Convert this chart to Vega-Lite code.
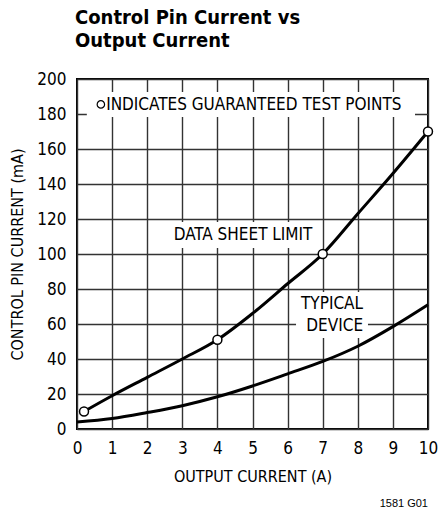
{
  "$schema": "https://vega.github.io/schema/vega-lite/v6.json",
  "autosize": {"type": "none"},
  "padding": {"left": 77, "top": 79, "right": 10, "bottom": 85},
  "width": 351,
  "height": 350,
  "background": "white",
  "config": {
    "view": {"stroke": "black", "strokeWidth": 2},
    "font": "DejaVu Sans Condensed, Liberation Sans Narrow, Roboto, sans-serif"
  },
  "title": {
    "text": ["Control Pin Current vs", "Output Current"],
    "anchor": "start",
    "frame": "group",
    "font": "DejaVu Sans Condensed, Liberation Sans Narrow, Roboto, sans-serif",
    "fontSize": 20,
    "fontWeight": "bold",
    "lineHeight": 23,
    "color": "black",
    "offset": 19,
    "dx": -2
  },
  "datasets": {
    "limit": [
      {"x": 0.2, "y": 10}, {"x": 1, "y": 19}, {"x": 2, "y": 29.5}, {"x": 3, "y": 40},
      {"x": 4, "y": 51}, {"x": 5, "y": 66}, {"x": 6, "y": 83}, {"x": 7, "y": 100},
      {"x": 8, "y": 123}, {"x": 9, "y": 146}, {"x": 10, "y": 170}
    ],
    "typical": [
      {"x": 0, "y": 4}, {"x": 1, "y": 6}, {"x": 2, "y": 9.4}, {"x": 3, "y": 13.3},
      {"x": 4, "y": 18.4}, {"x": 5, "y": 24.6}, {"x": 6, "y": 31.5}, {"x": 7, "y": 38.6},
      {"x": 8, "y": 47.3}, {"x": 9, "y": 58.5}, {"x": 10, "y": 71}
    ],
    "tests": [
      {"x": 0.2, "y": 10}, {"x": 4, "y": 51}, {"x": 7, "y": 100}, {"x": 10, "y": 170}
    ],
    "boxes": [
      {"x": 0.28, "x2": 9.63, "y": 192.6, "y2": 178.3},
      {"x": 2.6, "x2": 6.87, "y": 118.3, "y2": 103.4},
      {"x": 6.24, "x2": 8.29, "y": 78.3, "y2": 52}
    ],
    "centerLabels": [
      {"x": 4.73, "y": 110.6, "t": "DATA SHEET LIMIT"}
    ],
    "rightLabels": [
      {"x": 8.15, "y": 71.4, "t": "TYPICAL"},
      {"x": 8.15, "y": 59.1, "t": "DEVICE"}
    ],
    "leftLabels": [
      {"x": 0.83, "y": 185.4, "t": "INDICATES GUARANTEED TEST POINTS"}
    ],
    "legendPt": [{"x": 0.68, "y": 185.5}],
    "note": [{"x": 10, "y": -43, "t": "1581 G01"}]
  },
  "encoding": {
    "x": {
      "field": "x", "type": "quantitative",
      "scale": {"domain": [0, 10], "nice": false, "zero": false},
      "axis": {
        "values": [0, 1, 2, 3, 4, 5, 6, 7, 8, 9, 10],
        "title": "OUTPUT CURRENT (A)",
        "grid": true, "gridColor": "#333", "gridWidth": 1.4, "gridOpacity": 1,
        "domain": false, "ticks": false,
        "labelFontSize": 17, "labelColor": "black",
        "labelPadding": 11, "labelFlush": false, "labelOverlap": false,
        "titleFontSize": 16, "titleFontWeight": "normal",
        "titleColor": "black", "titlePadding": 12
      }
    },
    "y": {
      "field": "y", "type": "quantitative",
      "scale": {"domain": [0, 200], "nice": false, "zero": false},
      "axis": {
        "values": [0, 20, 40, 60, 80, 100, 120, 140, 160, 180, 200],
        "title": "CONTROL PIN CURRENT (mA)",
        "grid": true, "gridColor": "#333", "gridWidth": 1.4, "gridOpacity": 1,
        "domain": false, "ticks": false,
        "labelFontSize": 17, "labelColor": "black",
        "labelPadding": 11, "labelFlush": false, "labelOverlap": false,
        "titleFontSize": 16, "titleFontWeight": "normal",
        "titleColor": "black", "titlePadding": 11
      }
    }
  },
  "layer": [
    {
      "data": {"name": "boxes"},
      "mark": {"type": "rect", "fill": "white", "stroke": null},
      "encoding": {
        "x2": {"field": "x2"},
        "y2": {"field": "y2"}
      }
    },
    {
      "data": {"name": "typical"},
      "mark": {"type": "line", "color": "black", "strokeWidth": 3, "interpolate": "monotone"}
    },
    {
      "data": {"name": "limit"},
      "mark": {"type": "line", "color": "black", "strokeWidth": 3, "interpolate": "monotone"}
    },
    {
      "data": {"name": "tests"},
      "mark": {"type": "point", "shape": "circle", "filled": true, "fill": "white", "stroke": "black", "strokeWidth": 1.5, "size": 80, "opacity": 1, "clip": false}
    },
    {
      "data": {"name": "legendPt"},
      "mark": {"type": "point", "shape": "circle", "filled": true, "fill": "white", "stroke": "black", "strokeWidth": 1.2, "size": 55, "opacity": 1}
    },
    {
      "data": {"name": "leftLabels"},
      "mark": {"type": "text", "align": "left", "baseline": "middle", "fontSize": 17, "color": "black"},
      "encoding": {"text": {"field": "t"}}
    },
    {
      "data": {"name": "centerLabels"},
      "mark": {"type": "text", "align": "center", "baseline": "middle", "fontSize": 17, "color": "black"},
      "encoding": {"text": {"field": "t"}}
    },
    {
      "data": {"name": "rightLabels"},
      "mark": {"type": "text", "align": "right", "baseline": "middle", "fontSize": 17, "color": "black"},
      "encoding": {"text": {"field": "t"}}
    },
    {
      "data": {"name": "note"},
      "mark": {"type": "text", "align": "right", "baseline": "middle", "fontSize": 11, "font": "Liberation Sans", "color": "black", "clip": false},
      "encoding": {"text": {"field": "t"}}
    }
  ]
}
